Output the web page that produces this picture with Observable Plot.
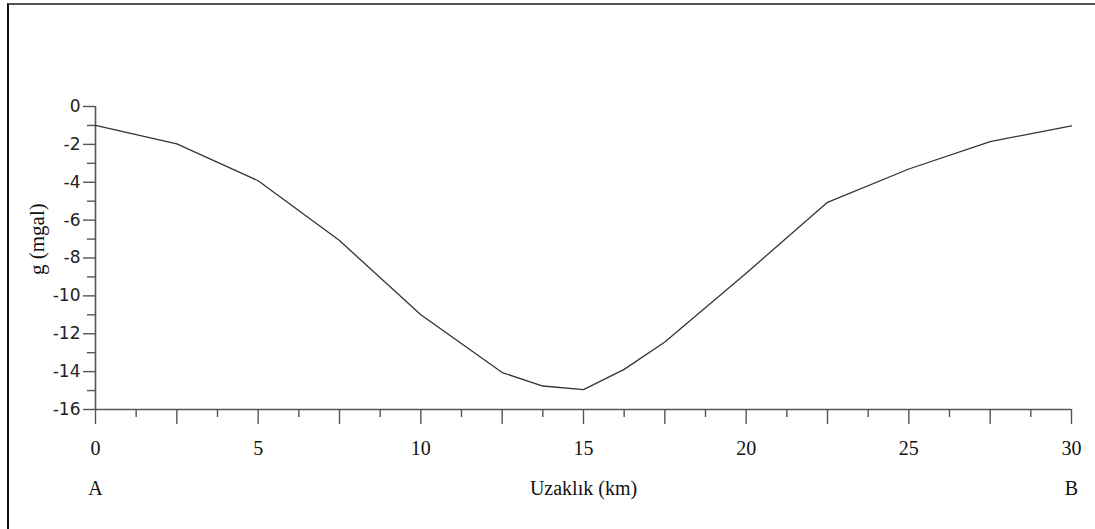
<!DOCTYPE html>
<html>
<head>
<meta charset="utf-8">
<script src="https://cdn.jsdelivr.net/npm/d3@7"></script>
<script src="https://cdn.jsdelivr.net/npm/@observablehq/plot@0.6"></script>
<style>
  html, body { margin: 0; padding: 0; background: #fff; }
  #wrap { position: relative; width: 1095px; height: 529px; overflow: hidden; }
  #frame { position: absolute; left: 7px; top: 3px; right: -10px; bottom: -10px;
           border-top: 2px solid #555; border-left: 2px solid #111; pointer-events: none; }
  #chart { position: absolute; left: 0; top: 0; }
</style>
</head>
<body>
<div id="wrap"><div id="chart"></div><div id="frame"></div></div>
<script>
// Distance along profile A-B (km)
const distanceKm = [0, 2.5, 5, 7.5, 10, 12.5, 13.75, 15, 16.25, 17.5, 20, 22.5, 25, 27.5, 30];
// Gravity anomaly g (mgal)
const gravityMgal = [-1.0, -1.97, -3.92, -7.08, -11.0, -14.05, -14.76, -14.95, -13.88, -12.44, -8.8, -5.06, -3.3, -1.85, -1.02];

const xMajorTicks = [0, 2.5, 5, 7.5, 10, 12.5, 15, 17.5, 20, 22.5, 25, 27.5, 30];
const xMinorTicks = [1.25, 3.75, 6.25, 8.75, 11.25, 13.75, 16.25, 18.75, 21.25, 23.75, 26.25, 28.75];
const xTickLabels = [0, 5, 10, 15, 20, 25, 30];
const yMajorTicks = [0, -2, -4, -6, -8, -10, -12, -14, -16];
const yMinorTicks = [-1, -3, -5, -7, -9, -11, -13, -15];
const endLabels = [{x: 0, text: "A"}, {x: 30, text: "B"}];
const xTitle = "Uzaklık (km)";
const yTitle = "g (mgal)";

const data = distanceKm.map((d, i) => ({x: d, g: gravityMgal[i]}));

const axisColor = "#555";
const serif = "'Liberation Serif', 'Times New Roman', serif";
const sans = "'DejaVu Sans', 'Liberation Sans', sans-serif";

const chart = Plot.plot({
  width: 1095,
  height: 529,
  marginLeft: 95,
  marginRight: 24,
  marginTop: 106,
  marginBottom: 120,
  style: {background: "transparent", color: "#222"},
  x: {domain: [0, 30]},
  y: {domain: [-16, 0]},
  marks: [
    // axis lines
    Plot.ruleY([-16], {x1: 0, x2: 30, stroke: axisColor, strokeWidth: 1.6}),
    Plot.ruleX([0], {y1: -16, y2: 0, stroke: axisColor, strokeWidth: 1.6}),
    // x ticks
    Plot.axisX({ticks: xMajorTicks, tickSize: 15, tickFormat: () => "", label: null, stroke: axisColor, strokeWidth: 1.4}),
    Plot.axisX({ticks: xMinorTicks, tickSize: 8, tickFormat: () => "", label: null, stroke: axisColor, strokeWidth: 1.4}),
    Plot.axisX({ticks: xTickLabels, tickSize: 0, tickPadding: 31, label: null,
                fontFamily: serif, fontSize: 20, fill: "#111"}),
    // y ticks
    Plot.axisY({ticks: yMajorTicks, tickSize: 12, tickPadding: 3, label: null, tickFormat: d => String(d),
                stroke: axisColor, strokeWidth: 1.4, fontFamily: sans, fontSize: 17, fill: "#222"}),
    Plot.axisY({ticks: yMinorTicks, tickSize: 8, tickFormat: () => "", label: null, stroke: axisColor, strokeWidth: 1.4}),
    // end labels A / B and axis titles
    Plot.text(endLabels, {x: "x", y: () => -16, text: "text", dy: 79, fontFamily: serif, fontSize: 20, fill: "#111"}),
    Plot.text([xTitle], {x: () => 15, y: () => -16, text: d => d, dy: 79, fontFamily: serif, fontSize: 20, fill: "#111"}),
    Plot.text([yTitle], {frameAnchor: "left", text: d => d, rotate: -90, dx: -58, dy: 17,
                         fontFamily: serif, fontSize: 21, fill: "#111"}),
    // profile line
    Plot.line(data, {x: "x", y: "g", stroke: "#333", strokeWidth: 1.3})
  ]
});
document.getElementById("chart").appendChild(chart);
</script>
</body>
</html>
